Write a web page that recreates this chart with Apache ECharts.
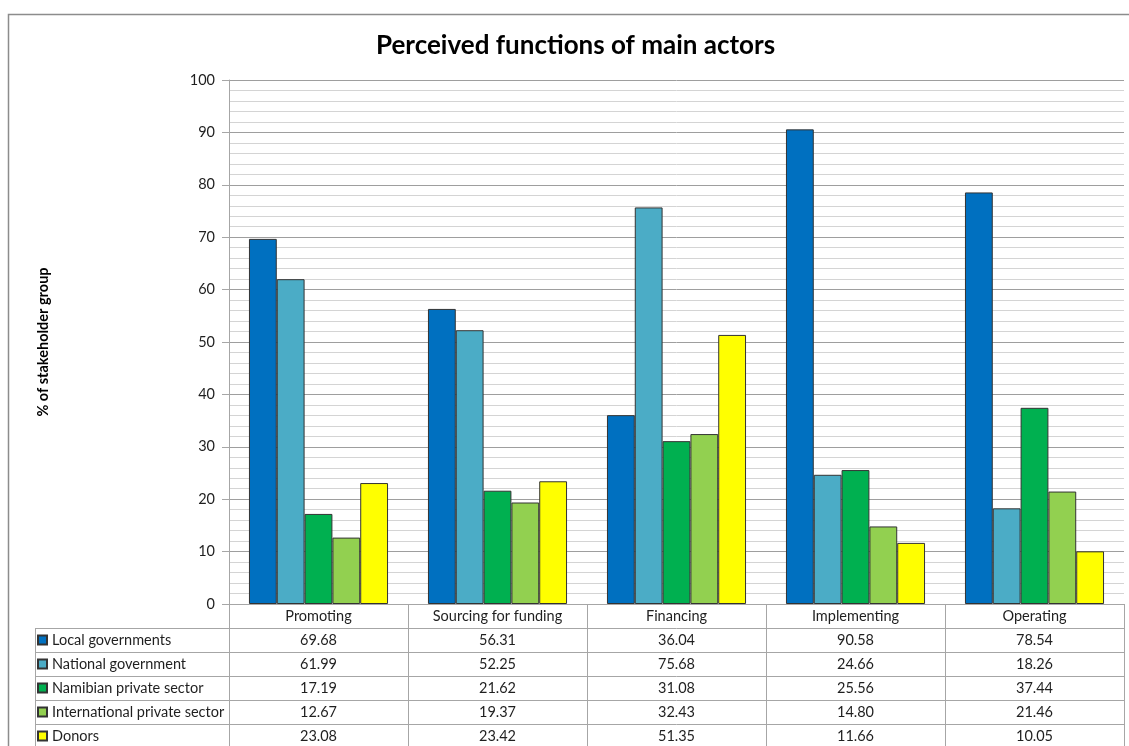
<!DOCTYPE html>
<html>
<head>
<meta charset="utf-8">
<script src="https://cdn.jsdelivr.net/npm/echarts@6/dist/echarts.min.js"></script>
<style>
  html, body { margin: 0; padding: 0; background: #fff; }
  #chart { width: 1129px; height: 746px; }
</style>
</head>
<body>
<div id="chart"></div>
<script>
// Functions and the stakeholder groups asked about them
const categories = ['Promoting', 'Sourcing for funding', 'Financing', 'Implementing', 'Operating'];
const seriesNames = ['Local governments', 'National government', 'Namibian private sector', 'International private sector', 'Donors'];

// % of each stakeholder group naming the actor for a function
const localGovernments = [69.68, 56.31, 36.04, 90.58, 78.54];
const nationalGovernment = [61.99, 52.25, 75.68, 24.66, 18.26];
const namibianPrivate = [17.19, 21.62, 31.08, 25.56, 37.44];
const internationalPrivate = [12.67, 19.37, 32.43, 14.80, 21.46];
const donors = [23.08, 23.42, 51.35, 11.66, 10.05];

const seriesValues = [localGovernments, nationalGovernment, namibianPrivate, internationalPrivate, donors];
const seriesColors = ['#0070C0', '#4BACC6', '#00B050', '#92D050', '#FFFF00'];

const FONT = 'Lato, "Noto Sans", sans-serif';
const TEXT = '#1f1f1f';
const FS = 14.5;
const ROW = 24;           // height of one data-table row
const GRID_BOTTOM = 142;  // space under the plot for the data table
const GRID_LEFT = 229;

const chart = echarts.init(document.getElementById('chart'), null, { renderer: 'canvas' });

// One extra category axis per table row: its line is the row border,
// its ticks are the column separators, and its labels are the values.
const tableAxes = seriesValues.map((vals, k) => ({
  type: 'category',
  data: categories,
  position: 'bottom',
  offset: ROW * (k + 1),
  axisLine: { show: true, lineStyle: { color: '#a6a6a6', width: 1 } },
  axisTick: { show: true, length: ROW, alignWithLabel: false, lineStyle: { color: '#a6a6a6' } },
  axisLabel: {
    margin: 5, color: TEXT, fontFamily: FONT, fontSize: FS,
    formatter: (v, i) => vals[i].toFixed(2)
  },
  splitLine: { show: false }
}));

const chartH = 746;
const gridBottomY = chartH - GRID_BOTTOM;

// Left column of the data table: row borders and its outer edge
const tableGraphics = [];
for (let k = 1; k <= seriesNames.length; k++) {
  tableGraphics.push({
    type: 'line', silent: true,
    shape: { x1: 35, y1: gridBottomY + ROW * k + 0.5, x2: GRID_LEFT, y2: gridBottomY + ROW * k + 0.5 },
    style: { stroke: '#a6a6a6', lineWidth: 1 }
  });
}
tableGraphics.push({
  type: 'line', silent: true,
  shape: { x1: 35.5, y1: gridBottomY + ROW, x2: 35.5, y2: chartH + 10 },
  style: { stroke: '#a6a6a6', lineWidth: 1 }
});
// Chart frame
tableGraphics.push({
  type: 'rect', silent: true,
  shape: { x: 8.5, y: 14.5, width: 1140, height: 760 },
  style: { fill: null, stroke: '#8c8c8c', lineWidth: 1.5 }
});

chart.setOption({
  animation: false,
  backgroundColor: '#ffffff',
  title: {
    text: 'Perceived functions of main actors',
    left: 371,
    top: 28,
    textStyle: { fontFamily: FONT, fontSize: 26, fontWeight: 'bold', color: '#000' }
  },
  legend: {
    orient: 'vertical',
    left: 37,
    top: gridBottomY + ROW,
    height: 200,
    padding: 0,
    itemGap: 0,
    itemWidth: 9,
    itemHeight: 9,
    icon: 'rect',
    selectedMode: false,
    data: seriesNames,
    textStyle: { fontFamily: FONT, fontSize: FS, color: TEXT, lineHeight: ROW, padding: [0, 0, 0, 0] }
  },
  grid: { left: GRID_LEFT, right: 5, top: 80, bottom: GRID_BOTTOM, containLabel: false },
  xAxis: [{
    type: 'category',
    data: categories,
    position: 'bottom',
    axisLine: { show: true, lineStyle: { color: '#a6a6a6', width: 1 } },
    axisTick: { show: true, length: ROW, alignWithLabel: false, lineStyle: { color: '#a6a6a6' } },
    axisLabel: { margin: 5, color: TEXT, fontFamily: FONT, fontSize: FS, interval: 0 },
    splitLine: { show: false }
  }].concat(tableAxes),
  yAxis: {
    type: 'value',
    min: 0, max: 100, interval: 10,
    name: '% of stakeholder group',
    nameLocation: 'middle',
    nameGap: 178,
    nameTextStyle: { fontFamily: FONT, fontSize: 14.5, fontWeight: 'bold', color: '#000' },
    axisLine: { show: true, lineStyle: { color: '#a6a6a6', width: 1 } },
    axisTick: { show: true, length: 7, lineStyle: { color: '#a6a6a6' } },
    axisLabel: { margin: 14, color: TEXT, fontFamily: FONT, fontSize: FS },
    splitLine: { show: true, lineStyle: { color: '#9e9e9e', width: 1 } },
    minorTick: { show: false, splitNumber: 5 },
    minorSplitLine: { show: true, lineStyle: { color: '#d4d4d4', width: 1 } }
  },
  series: seriesNames.map((name, i) => ({
    name: name,
    type: 'bar',
    xAxisIndex: 0,
    data: seriesValues[i],
    barGap: '0%',
    barCategoryGap: '22.3%',
    itemStyle: { color: seriesColors[i], borderColor: '#333', borderWidth: 1 }
  })),
  graphic: tableGraphics
});
</script>
</body>
</html>
